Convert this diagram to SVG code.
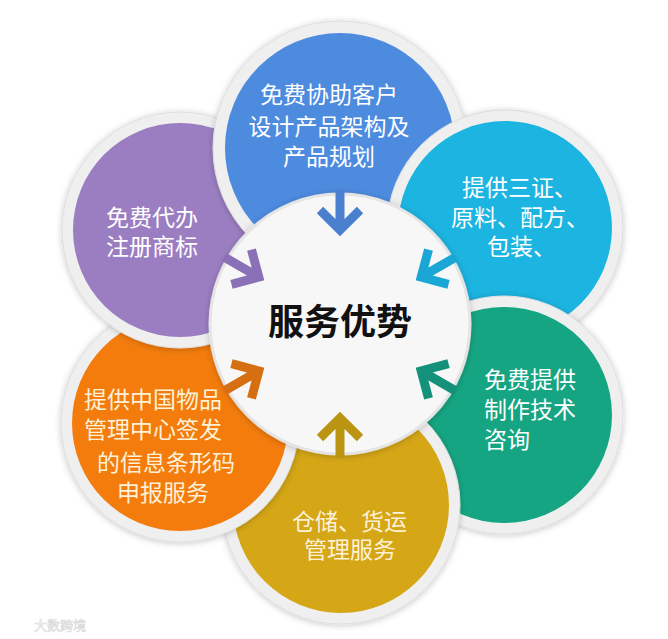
<svg xmlns="http://www.w3.org/2000/svg" width="668" height="639" viewBox="0 0 668 639">
<defs>
<filter id="sh" x="-20%" y="-20%" width="140%" height="140%">
<feDropShadow dx="0" dy="1" stdDeviation="3" flood-color="#000" flood-opacity="0.22"/>
</filter>
<clipPath id="cyanClip"><rect x="380" y="90" width="150" height="170"/></clipPath>
<style>
.ring{fill:#efefef;stroke:#dedede;stroke-width:1}
.t{font-family:"Noto Sans CJK SC","Noto Sans",sans-serif;font-size:23px;fill:#ffffff}
.tc{fill:#fdf1d8}
.arw{fill:none;stroke-width:9;stroke-linejoin:miter;stroke-linecap:butt}
</style>
</defs>
<rect width="668" height="639" fill="#ffffff"/>

<g id="node-cyan" filter="url(#sh)">
<circle cx="505" cy="228" r="118" class="ring"/>
<circle cx="505" cy="228" r="107" fill="#1cb4e1"/>
</g>
<g id="node-green" filter="url(#sh)">
<circle cx="504" cy="415" r="119" class="ring"/>
<circle cx="504" cy="415" r="108" fill="#15a582"/>
</g>
<g id="node-yellow" filter="url(#sh)">
<circle cx="341" cy="505" r="119" class="ring"/>
<circle cx="341" cy="505" r="108" fill="#d5a617"/>
</g>
<g id="node-orange" filter="url(#sh)">
<circle cx="180" cy="423" r="119" class="ring"/>
<circle cx="180" cy="423" r="108" fill="#f37c11"/>
</g>
<g id="node-purple" filter="url(#sh)">
<circle cx="180" cy="230" r="118" class="ring"/>
<circle cx="180" cy="230" r="107" fill="#9b7ec1"/>
</g>
<g id="node-blue" filter="url(#sh)">
<circle cx="340" cy="148" r="127" class="ring"/>
<circle cx="340" cy="148" r="115" fill="#4e8bdf"/>
</g>
<g id="node-cyan-top" clip-path="url(#cyanClip)">
<circle cx="505" cy="228" r="118" class="ring"/>
<circle cx="505" cy="228" r="107" fill="#1cb4e1"/>
</g>

<g id="node-center" filter="url(#sh)">
<circle cx="340" cy="324" r="130" fill="#f7f7f7" stroke="#e4e4e4" stroke-width="3"/>
</g>

<g id="labels">
<text class="t" text-anchor="middle"><tspan x="329" y="103">免费协助客户</tspan><tspan x="329" y="135">设计产品架构及</tspan><tspan x="329" y="165">产品规划</tspan></text>
<text class="t"><tspan x="462" y="196">提供三证、</tspan><tspan x="451" y="226">原料、配方、</tspan><tspan x="487" y="255">包装、</tspan></text>
<text class="t"><tspan x="106" y="226">免费代办</tspan><tspan x="106" y="255">注册商标</tspan></text>
<text class="t"><tspan x="484" y="388">免费提供</tspan><tspan x="484" y="418">制作技术</tspan><tspan x="484" y="448">咨询</tspan></text>
<text class="t tc"><tspan x="292" y="530">仓储、货运</tspan><tspan x="304" y="558">管理服务</tspan></text>
<text class="t tc"><tspan x="84" y="408">提供中国物品</tspan><tspan x="84" y="438">管理中心签发</tspan><tspan x="97" y="471">的信息条形码</tspan><tspan x="117" y="501">申报服务</tspan></text>
<text x="340" y="335" text-anchor="middle" font-family="Noto Sans CJK SC, Noto Sans, sans-serif" font-size="36" font-weight="bold" fill="#111111">服务优势</text>
</g>

<g id="connectors">
<g transform="translate(340,236) rotate(0)"><path class="arw" stroke="#4a7fd0" d="M0,-46 V-8 M-20,-26 L0,-6 L20,-26"/></g>
<g transform="translate(416,280) rotate(60)"><path class="arw" stroke="#1ba7d5" d="M0,-46 V-8 M-20,-26 L0,-6 L20,-26"/></g>
<g transform="translate(416,368) rotate(120)"><path class="arw" stroke="#13917a" d="M0,-46 V-8 M-20,-26 L0,-6 L20,-26"/></g>
<g transform="translate(340,412) rotate(180)"><path class="arw" stroke="#bb9412" d="M0,-46 V-8 M-20,-26 L0,-6 L20,-26"/></g>
<g transform="translate(264,368) rotate(240)"><path class="arw" stroke="#d66f12" d="M0,-46 V-8 M-20,-26 L0,-6 L20,-26"/></g>
<g transform="translate(264,280) rotate(-60)"><path class="arw" stroke="#8a70b6" d="M0,-46 V-8 M-20,-26 L0,-6 L20,-26"/></g>
</g>

<text x="34" y="630" font-family="Noto Sans CJK SC, sans-serif" font-size="13" fill="#ffffff" stroke="#d6d6d6" stroke-width="0.6">大数跨境</text>
</svg>
